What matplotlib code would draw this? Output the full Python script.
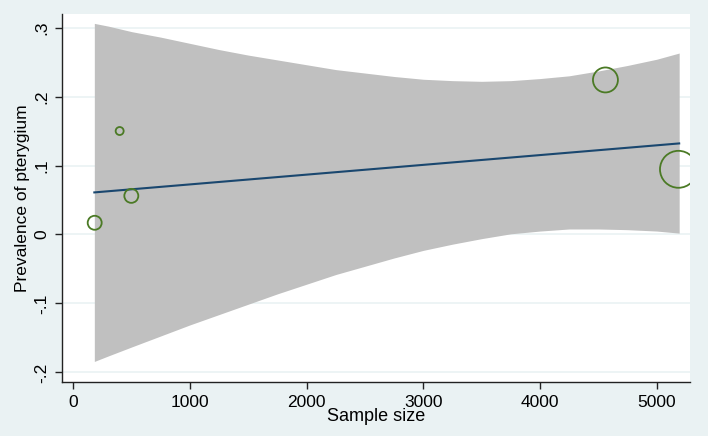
import numpy as np
import matplotlib
matplotlib.use('Agg')
import matplotlib.pyplot as plt

# studies: sample size, prevalence, weight (bubble size)
sample_size = [183, 397, 497, 4561, 5187]
prevalence = [0.017, 0.150, 0.056, 0.224, 0.0945]
weights = [49, 16, 49, 156, 342]

# fitted meta-regression line (end points)
fit_x = [180, 5193]
fit_y = [0.061, 0.132]

# 95% confidence band
band_x = [180, 300, 500, 750, 1000, 1250, 1500, 1750, 2000, 2250, 2500, 2750,
          3000, 3250, 3500, 3750, 4000, 4250, 4500, 4750, 5000, 5193]
band_hi = [0.306, 0.302, 0.294, 0.286, 0.277, 0.268, 0.260, 0.253, 0.246, 0.239, 0.234, 0.229,
           0.225, 0.223, 0.222, 0.223, 0.226, 0.230, 0.237, 0.245, 0.254, 0.263]
band_lo = [-0.184, -0.176, -0.163, -0.147, -0.131, -0.116, -0.101, -0.086, -0.072, -0.058, -0.046, -0.034,
           -0.023, -0.014, -0.006, 0.001, 0.005, 0.008, 0.008, 0.007, 0.005, 0.002]

xticks = [0, 1000, 2000, 3000, 4000, 5000]
yticks = [-0.2, -0.1, 0, 0.1, 0.2, 0.3]
ytick_labels = ['-.2', '-.1', '0', '.1', '.2', '.3']

plt.rcParams['font.family'] = ['Liberation Sans', 'DejaVu Sans']

bg = '#eaf2f3'
fig = plt.figure(figsize=(7.08, 4.36), dpi=100, facecolor=bg)
ax = fig.add_axes([0.0876, 0.1232, 0.887, 0.8447])
ax.set_facecolor('white')

for yv in yticks:
    ax.axhline(yv, color=bg, lw=1.2, zorder=0)

ax.fill_between(band_x, band_lo, band_hi, color='#c0c0c0', lw=0, zorder=1)
ax.plot(fit_x, fit_y, color='#1a476f', lw=1.5, zorder=2)
ax.scatter(sample_size, prevalence, s=np.array(weights) * 2.07,
           facecolors='none', edgecolors='#4b7a25', linewidths=1.3, zorder=3)

ax.set_xlim(-97, 5286)
ax.set_ylim(-0.2142, 0.3196)
ax.set_xticks(xticks)
ax.set_yticks(yticks)
ax.set_yticklabels(ytick_labels, rotation=90, va='center')

for s in ['top', 'right']:
    ax.spines[s].set_visible(False)
for s in ['left', 'bottom']:
    ax.spines[s].set_color('#222222')
    ax.spines[s].set_linewidth(1.0)

ax.tick_params(axis='both', length=5, width=1, color='#222222', labelsize=12.5, labelcolor='black')
ax.tick_params(axis='x', pad=4)
ax.tick_params(axis='y', pad=4)

ax.set_xlabel('Sample size', fontsize=13, labelpad=-1)
ax.set_ylabel('Prevalence of pterygium', fontsize=12.5, labelpad=3)

fig.savefig('out.png', dpi=100, facecolor=bg)
